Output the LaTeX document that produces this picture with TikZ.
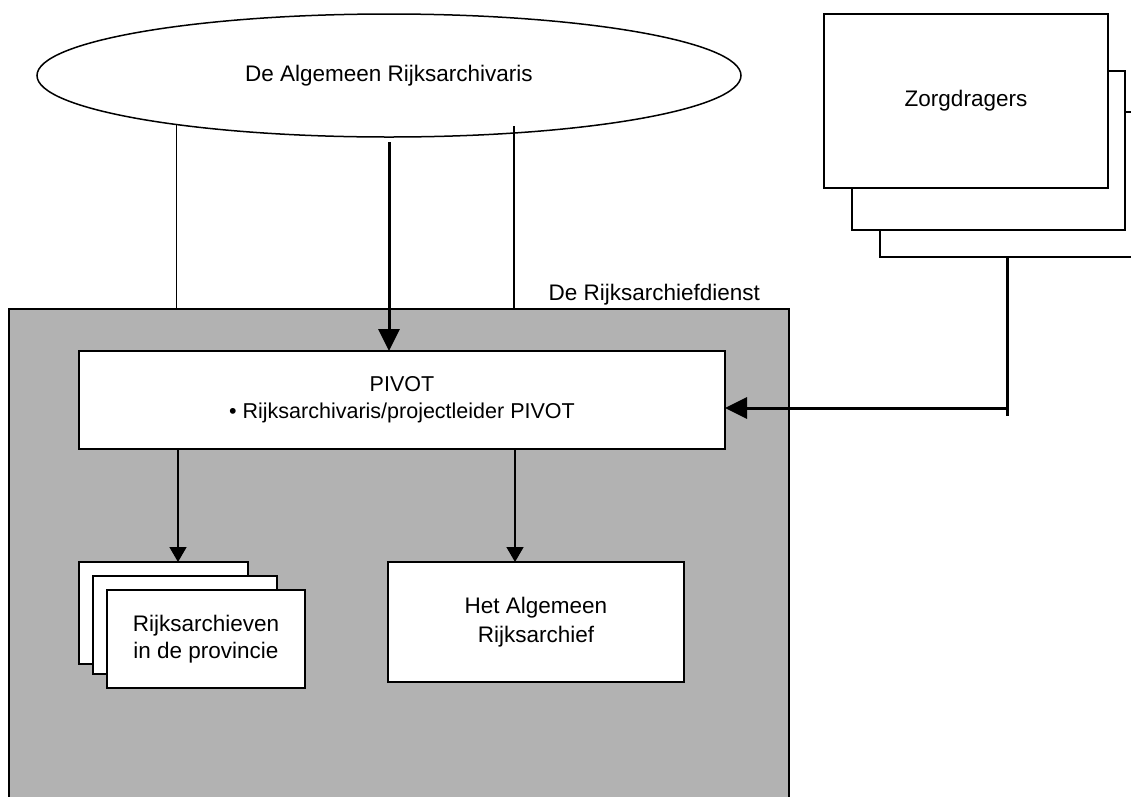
\documentclass[tikz,border=0pt]{standalone}
\usepackage{fontspec}
\setmainfont{Liberation Sans}
\usetikzlibrary{arrows.meta,calc,shapes.geometric}
\tikzset{
  txt/.style={font=\fontsize{22.5}{27}\selectfont},
  wbox/.style={draw=black, line width=1.6pt, fill=white, rectangle, inner sep=0pt, outer sep=0pt, align=center, txt},
  gbox/.style={draw=black, line width=2pt, fill=gboxgray, rectangle, inner sep=0pt, outer sep=0pt},
  thinln/.style={draw=black, line width=1.5pt},
  thickln/.style={draw=black, line width=3pt},
  thinarrow/.style={thinln, -{Triangle[length=15pt,width=17pt]}},
  thickarrow/.style={thickln, -{Triangle[length=22pt,width=21pt]}},
}
\definecolor{gboxgray}{RGB}{178,178,178}
\begin{document}
\begin{tikzpicture}[x=1pt,y=-1pt]
\useasboundingbox (0,0) rectangle (1131,796);
\clip (0,0) rectangle (1131,796);
\fill[white] (0,0) rectangle (1131,796);
% outer grey box
\node[gbox, minimum width=780pt, minimum height=520pt, anchor=north west] (dienst) at (9,309) {};
\node[txt, anchor=base west] (dienstlbl) at (545,300) {De Rijksarchiefdienst};
% ellipse
\node[draw=black, line width=1.5pt, fill=white, ellipse, inner sep=0pt, outer sep=0pt,
      minimum width=704pt, minimum height=123pt, txt] (ell) at (389,75.5) {De Algemeen Rijksarchivaris};
% Zorgdragers stack
\node[wbox, minimum width=280pt, minimum height=145pt, anchor=north west] (z3) at (880,112) {};
\node[wbox, minimum width=273pt, minimum height=159pt, anchor=north west] (z2) at (852,71) {};
\node[wbox, minimum width=284pt, minimum height=174pt, anchor=north west] (z1) at (824,14) {Zorgdragers};
% PIVOT
\node[wbox, minimum width=646pt, minimum height=98pt, anchor=north west, font=\fontsize{21.5}{27}\selectfont] (pivot) at (79,351)
  {PIVOT\\ \textbullet{} Rijksarchivaris/projectleider PIVOT};
% Rijksarchieven stack
\node[wbox, minimum width=169pt, minimum height=102pt, anchor=north west] (ra1) at (79,562) {};
\node[wbox, minimum width=184pt, minimum height=98pt, anchor=north west] (ra2) at (93,576) {};
\node[wbox, minimum width=198pt, minimum height=98pt, anchor=north west] (ra3) at (107,590) {Rijksarchieven\\in de provincie};
% Het Algemeen Rijksarchief
\node[wbox, minimum width=296pt, minimum height=120pt, anchor=north west, font=\fontsize{22.5}{28.5}\selectfont] (ar) at (388,562) {Het Algemeen\\Rijksarchief};
% helper coordinates
\coordinate (xl) at (178,0);
\coordinate (xr) at (515,0);
\coordinate (xz) at (1007,0);
\coordinate (ellr) at ($(ell.center)+(125,50.5)$);
% connectors
\draw[thinln] (ell.193.07) -- (ell.193.07 |- dienst.north);
\draw[thinln] (ellr) -- (ellr |- dienst.north);
\draw[thickarrow] ($(ell.south)+(0,5)$) -- (ell.south |- pivot.north);
\draw[thinarrow] (pivot.south -| xl) -- (ra1.north -| xl);
\draw[thinarrow] (pivot.south -| xr) -- (ar.north -| xr);
\draw[thickln] (z3.south -| xz) -- ($(z3.south -| xz)+(0,159)$);
\draw[thickarrow] ($(pivot.east -| xz)+(0,8)$) -- ($(pivot.east)+(0,8)$);
\end{tikzpicture}
\end{document}
